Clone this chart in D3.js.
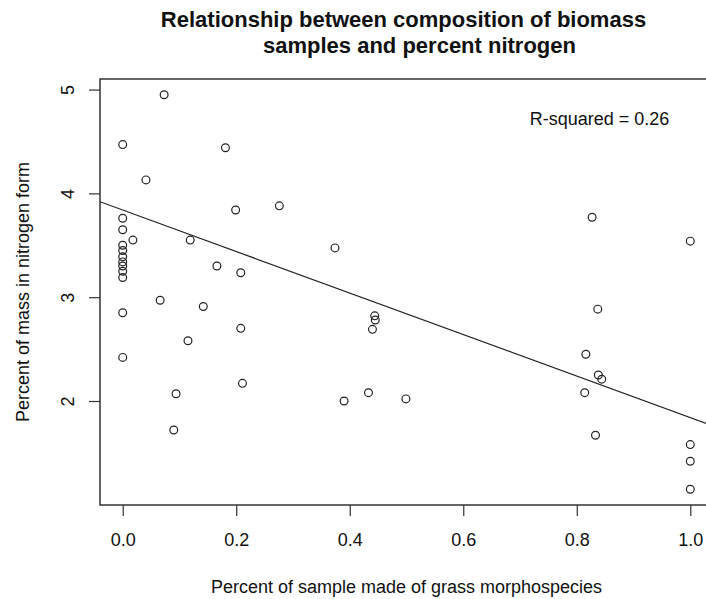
<!DOCTYPE html>
<html lang="en">
<head>
    <meta charset="UTF-8">
    <title>Biomass composition vs nitrogen</title>
    <script src="https://d3js.org/d3.v7.min.js"></script>
    <style>
        body { margin: 0; background: #fff; }
        text { font-family: "Liberation Sans", Arial, Helvetica, sans-serif; fill: #111; }
        .title { font-size: 22px; font-weight: bold; text-anchor: middle; }
        .lab { font-size: 18px; text-anchor: middle; }
        .tick text { font-size: 18px; }
    </style>
</head>
<body>
    <svg width="706" height="599"></svg>

    <script>
        // data
        const grassFraction = [
            0.073, 0, 0.181, 0.041, 0.199, 0.276, 0, 0, 0.018, 0.119,
            0, 0, 0, 0, 0, 0, 0, 0.166, 0.208, 0.066,
            0.142, 0, 0.208, 0.115, 0, 0.211, 0.094, 0.090, 0.374, 0.444,
            0.445, 0.440, 0.390, 0.433, 0.499, 0.827, 1.0, 0.837, 0.816, 0.838,
            0.844, 0.814, 0.833, 1.0, 1.0, 1.0
        ];
        const nitrogenPct = [
            4.95, 4.47, 4.44, 4.13, 3.84, 3.88, 3.76, 3.65, 3.55, 3.55,
            3.50, 3.45, 3.39, 3.34, 3.30, 3.25, 3.19, 3.30, 3.235, 2.97,
            2.91, 2.85, 2.70, 2.58, 2.42, 2.17, 2.07, 1.72, 3.475, 2.82,
            2.78, 2.69, 2.00, 2.08, 2.02, 3.77, 3.54, 2.885, 2.45, 2.25,
            2.21, 2.08, 1.67, 1.58, 1.42, 1.15
        ];
        const xTicks = [0, 0.2, 0.4, 0.6, 0.8, 1.0];
        const yTicks = [2, 3, 4, 5];
        // fitted line (abline) and annotation
        const fitIntercept = 3.84;
        const fitSlope = -2.0;
        const rSquaredText = "R-squared = 0.26";

        const width = 706, height = 599;
        const plot = { left: 100, right: 713, top: 79, bottom: 505 };

        const svg = d3.select("svg");

        // R style 4% padding on the ranges
        function padded(vals) {
            const [a, b] = d3.extent(vals);
            const p = (b - a) * 0.04;
            return [a - p, b + p];
        }

        const x = d3.scaleLinear().domain(padded(grassFraction)).range([plot.left, plot.right]);
        const y = d3.scaleLinear().domain(padded(nitrogenPct)).range([plot.bottom, plot.top]);

        svg.append("clipPath").attr("id", "plotArea")
            .append("rect")
            .attr("x", plot.left).attr("y", plot.top)
            .attr("width", plot.right - plot.left).attr("height", plot.bottom - plot.top);

        // axes
        const xAxis = svg.append("g")
            .attr("transform", `translate(0,${plot.bottom})`)
            .call(d3.axisBottom(x).tickValues(xTicks).tickFormat(d3.format(".1f")).tickSize(11).tickSizeOuter(0));
        xAxis.select(".domain").remove();
        xAxis.selectAll(".tick line").attr("stroke", "#333").attr("stroke-width", 1.2);
        xAxis.selectAll(".tick text").attr("y", 41).attr("dy", null).attr("fill", "#111");

        const yAxis = svg.append("g")
            .attr("transform", `translate(${plot.left},0)`)
            .call(d3.axisLeft(y).tickValues(yTicks).tickFormat(d3.format("d")).tickSize(11).tickSizeOuter(0));
        yAxis.select(".domain").remove();
        yAxis.selectAll(".tick line").attr("stroke", "#333").attr("stroke-width", 1.2);
        yAxis.selectAll(".tick text")
            .attr("x", null).attr("dy", null)
            .attr("text-anchor", "middle")
            .attr("fill", "#111")
            .attr("transform", "translate(-26,0) rotate(-90)");

        // box
        svg.append("rect")
            .attr("x", plot.left).attr("y", plot.top)
            .attr("width", plot.right - plot.left).attr("height", plot.bottom - plot.top)
            .attr("fill", "none")
            .attr("stroke", "#333")
            .attr("stroke-width", 1.5);

        // regression line
        const [x0, x1] = x.domain();
        svg.append("line")
            .attr("clip-path", "url(#plotArea)")
            .attr("x1", x(x0)).attr("y1", y(fitIntercept + fitSlope * x0))
            .attr("x2", x(x1)).attr("y2", y(fitIntercept + fitSlope * x1))
            .attr("stroke", "#222")
            .attr("stroke-width", 1.2);

        // points
        svg.append("g")
            .selectAll("circle")
            .data(grassFraction.map((g, i) => [g, nitrogenPct[i]]))
            .join("circle")
            .attr("cx", d => x(d[0]))
            .attr("cy", d => y(d[1]))
            .attr("r", 3.9)
            .attr("fill", "none")
            .attr("stroke", "#222")
            .attr("stroke-width", 1.2);

        // texts
        svg.append("text").attr("class", "lab")
            .attr("x", x(0.84)).attr("y", y(4.72))
            .attr("dominant-baseline", "central")
            .text(rSquaredText);

        // the two title lines are not quite centred on the same x in the original
        const mid = (plot.left + plot.right) / 2;
        svg.append("text").attr("class", "title")
            .attr("x", mid - 3).attr("y", 27)
            .text("Relationship between composition of biomass");
        svg.append("text").attr("class", "title")
            .attr("x", mid + 13).attr("y", 53)
            .text("samples and percent nitrogen");

        svg.append("text").attr("class", "lab")
            .attr("x", mid).attr("y", 593)
            .text("Percent of sample made of grass morphospecies");

        svg.append("text").attr("class", "lab")
            .attr("transform", `translate(29,${(plot.top + plot.bottom) / 2}) rotate(-90)`)
            .text("Percent of mass in nitrogen form");
    </script>
</body>
</html>
